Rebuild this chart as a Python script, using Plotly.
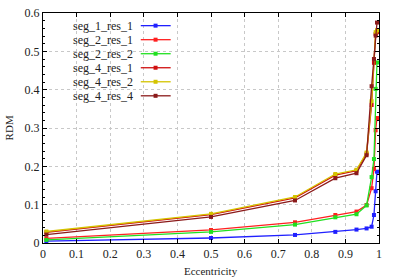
import plotly.graph_objects as go

ecc = [0.01, 0.5, 0.75, 0.87, 0.933, 0.963, 0.978, 0.985, 0.99, 0.994]

seg_1_res_1 = [0.005, 0.013, 0.021, 0.029, 0.035, 0.038, 0.0425, 0.073, 0.135, 0.186]
seg_2_res_1 = [0.012, 0.034, 0.054, 0.073, 0.082, 0.099, 0.143, 0.193, 0.294, 0.326]
seg_2_res_2 = [0.008, 0.029, 0.048, 0.067, 0.075, 0.098, 0.172, 0.219, 0.402, 0.471]
seg_4_res_1 = [0.028, 0.074, 0.118, 0.177, 0.189, 0.233, 0.36, 0.47, 0.545, 0.55]
seg_4_res_2 = [0.030, 0.076, 0.120, 0.180, 0.191, 0.236, 0.37, 0.48, 0.55, 0.555]
seg_4_res_4 = [0.022, 0.068, 0.111, 0.169, 0.182, 0.229, 0.409, 0.48, 0.541, 0.575]

names = ["seg_1_res_1", "seg_2_res_1", "seg_2_res_2", "seg_4_res_1", "seg_4_res_2", "seg_4_res_4"]
series = [seg_1_res_1, seg_2_res_1, seg_2_res_2, seg_4_res_1, seg_4_res_2, seg_4_res_4]
colors = ["#2020ff", "#ff2020", "#20e020", "#d01010", "#d4c400", "#8b1a1a"]

x_ticks = [0, 0.1, 0.2, 0.3, 0.4, 0.5, 0.6, 0.7, 0.8, 0.9, 1]
y_ticks = [0, 0.1, 0.2, 0.3, 0.4, 0.5, 0.6]

FONT = "Liberation Serif, Times New Roman, serif"

fig = go.Figure()
for name, vals, col in zip(names, series, colors):
    fig.add_trace(go.Scatter(
        x=ecc, y=vals, mode="lines+markers", name=name,
        line=dict(color=col, width=1.3),
        marker=dict(color=col, size=4, symbol="square"),
        showlegend=False,
    ))

# custom legend (text left of sample, gnuplot style)
leg_y = [0.945, 0.884, 0.823, 0.762, 0.701, 0.640]
annotations = []
for name, col, yy in zip(names, colors, leg_y):
    fig.add_trace(go.Scatter(
        x=[0.291, 0.380], y=[yy, yy], mode="lines", xaxis="x2", yaxis="y2",
        line=dict(color=col, width=1.3), showlegend=False, hoverinfo="skip"))
    fig.add_trace(go.Scatter(
        x=[0.335], y=[yy], mode="markers", xaxis="x2", yaxis="y2",
        marker=dict(color=col, size=4, symbol="square"), showlegend=False, hoverinfo="skip"))
    annotations.append(dict(
        x=0.273, y=yy, xref="paper", yref="paper", text=name, showarrow=False,
        xanchor="right", yanchor="middle", font=dict(family=FONT, size=12, color="#222")))

annotations.append(dict(x=0.5, y=-0.12, xref="paper", yref="paper", text="Eccentricity",
                        showarrow=False, xanchor="center", yanchor="middle",
                        font=dict(family=FONT, size=11, color="#222")))
annotations.append(dict(x=-0.1, y=0.5, xref="paper", yref="paper", text="RDM",
                        showarrow=False, textangle=-90, xanchor="center", yanchor="middle",
                        font=dict(family=FONT, size=11, color="#222")))

fig.update_layout(
    width=399, height=279,
    margin=dict(l=43, r=20, t=13, b=36),
    paper_bgcolor="white", plot_bgcolor="white",
    font=dict(family=FONT, size=12, color="#222"),
    annotations=annotations,
    xaxis=dict(
        range=[0, 1], tickvals=x_ticks, ticktext=[f"{v:g}" for v in x_ticks],
        ticks="inside", ticklen=4, tickcolor="black", showline=True, linecolor="black",
        linewidth=1, mirror="allticks", showgrid=True, gridcolor="#c8c8c8", griddash="dot",
        gridwidth=1, zeroline=False, tickfont=dict(family=FONT, size=12), automargin=False,
    ),
    yaxis=dict(
        range=[0, 0.6], tickvals=y_ticks, ticktext=[f"{v:g}" for v in y_ticks],
        ticks="inside", ticklen=4, tickcolor="black", showline=True, linecolor="black",
        linewidth=1, mirror="allticks", showgrid=True, gridcolor="#c8c8c8", griddash="dot",
        gridwidth=1, zeroline=False, tickfont=dict(family=FONT, size=12), automargin=False,
        minor=dict(dtick=0.02, ticks="inside", ticklen=2, tickcolor="black", showgrid=False),
    ),
    xaxis2=dict(range=[0, 1], overlaying="x", visible=False),
    yaxis2=dict(range=[0, 1], overlaying="y", visible=False),
)

fig.write_html("out.html", config={"displayModeBar": False},
               post_script="document.body.style.margin='0';")
